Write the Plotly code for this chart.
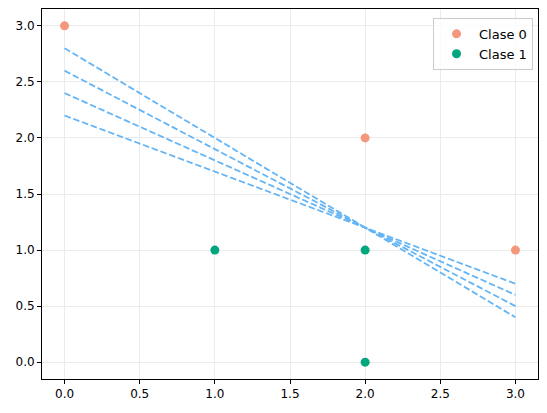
import plotly.graph_objects as go

# Data
clase0_x = [0, 2, 3]
clase0_y = [3, 2, 1]
clase1_x = [1, 2, 2]
clase1_y = [1, 1, 0]
line_x = [0, 3]
line_starts = [2.8, 2.6, 2.4, 2.2]
line_ends = [0.4, 0.5, 0.6, 0.7]
x_ticks = [0.0, 0.5, 1.0, 1.5, 2.0, 2.5, 3.0]
y_ticks = [0.0, 0.5, 1.0, 1.5, 2.0, 2.5, 3.0]

fig = go.Figure()
for y0, y1 in zip(line_starts, line_ends):
    fig.add_trace(go.Scatter(x=line_x, y=[y0, y1], mode="lines",
                             line=dict(color="#64B5F6", width=1.8, dash="6.5px,2.8px"),
                             showlegend=False, hoverinfo="skip"))
fig.add_trace(go.Scatter(x=clase0_x, y=clase0_y, mode="markers", name="Clase 0",
                         marker=dict(color="#F4977C", size=9)))
fig.add_trace(go.Scatter(x=clase1_x, y=clase1_y, mode="markers", name="Clase 1",
                         marker=dict(color="#00A67E", size=9)))

axis_common = dict(showline=True, linecolor="black", linewidth=1, mirror=True,
                   ticks="outside", ticklen=4, tickcolor="black",
                   showgrid=True, gridcolor="#EBEBEB", gridwidth=1,
                   zeroline=False, tickfont=dict(family="DejaVu Sans", size=12, color="black"))
fig.update_xaxes(range=[-0.15, 3.15], tickvals=x_ticks,
                 ticktext=[f"{v:.1f}" for v in x_ticks], **axis_common)
fig.update_yaxes(range=[-0.15, 3.15], tickvals=y_ticks,
                 ticktext=[f"{v:.1f}" for v in y_ticks], **axis_common)

fig.update_layout(width=547, height=413,
                  margin=dict(l=34, r=17, t=1, b=42, autoexpand=False),
                  plot_bgcolor="white", paper_bgcolor="white",
                  font=dict(family="DejaVu Sans", size=12, color="black"),
                  legend=dict(x=0.99, y=0.976, xanchor="right", yanchor="top",
                              bgcolor="rgba(255,255,255,0.8)", bordercolor="#CCCCCC",
                              borderwidth=1, font=dict(size=13), itemwidth=35))
fig.write_html("out.html")
